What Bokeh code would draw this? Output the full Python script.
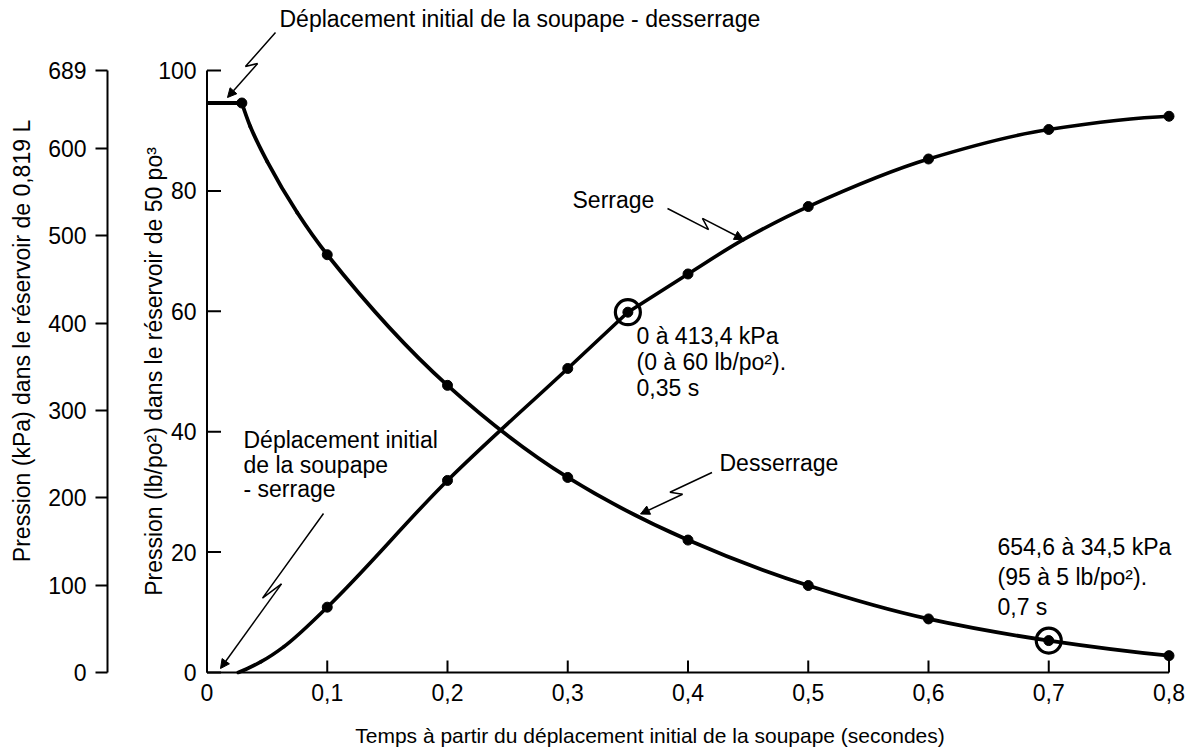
import math
from bokeh.plotting import figure
from bokeh.models import Range1d, LinearAxis, FixedTicker, Arrow, NormalHead
from bokeh.core.properties import value
from bokeh.embed import file_html
from bokeh.resources import INLINE

# ---------------- data ----------------
serrage_t = [0.1, 0.2, 0.3, 0.35, 0.4, 0.5, 0.6, 0.7, 0.8]
serrage_p = [10.85, 31.9, 50.5, 59.85, 66.2, 77.4, 85.3, 90.2, 92.4]
desserrage_t = [0.029, 0.1, 0.2, 0.3, 0.4, 0.5, 0.6, 0.7, 0.8]
desserrage_p = [94.6, 69.4, 47.7, 32.4, 22.0, 14.45, 8.9, 5.3, 2.8]

# traced positions of the drawn curves (read between the dots)
serrage_low_t = [0.026, 0.045, 0.064, 0.1, 0.2, 0.3, 0.35]
serrage_low_p = [0.0, 1.8, 4.3, 10.85, 31.9, 50.5, 59.85]
serrage_high_t = [0.35, 0.4, 0.446, 0.5, 0.6, 0.7, 0.8]
serrage_high_p = [59.85, 66.2, 71.9, 77.4, 85.3, 90.2, 92.4]
desserrage_flat_t = [0.0, 0.029]
desserrage_flat_p = [94.6, 94.6]
desserrage_trace_t = [0.029, 0.036, 0.05, 0.075, 0.1, 0.2, 0.3, 0.4, 0.5, 0.6, 0.7, 0.8]
desserrage_trace_p = [94.6, 90.7, 84.9, 76.4, 69.4, 47.7, 32.4, 22.0, 14.45, 8.9, 5.3, 2.8]

key_t = [0.35, 0.7]
key_p = [59.85, 5.3]

x_ticks = [0, 0.1, 0.2, 0.3, 0.4, 0.5, 0.6, 0.7, 0.8]
x_tick_labels = ["0", "0,1", "0,2", "0,3", "0,4", "0,5", "0,6", "0,7", "0,8"]
psi_ticks = [0, 20, 40, 60, 80, 100]
psi_tick_labels = ["0", "20", "40", "60", "80", "100"]
kpa_ticks = [0, 100, 200, 300, 400, 500, 600, 689]
KPA_PER_PSI = 6.89

x_title = "Temps à partir du déplacement initial de la soupape (secondes)"
kpa_title = "Pression (kPa) dans le réservoir de 0,819 L"
psi_title = "Pression (lb/po²) dans le réservoir de 50 po³"

# ---------------- layout (canvas pixels) ----------------
W, H = 1192, 753
FRAME_LEFT, FRAME_TOP, FRAME_RIGHT, FRAME_BOTTOM = 107, 0, 1192, 681
X0, SX = 206.5, 1202.5   # x pixel of t=0, px per second
Y0, SY = 672.0, 6.02     # y pixel of p=0, px per psi
FW = FRAME_RIGHT - FRAME_LEFT
FH = FRAME_BOTTOM - FRAME_TOP


def dx(xp):
    return (xp - X0) / SX


def dy(yp):
    return (Y0 - yp) / SY


FONT = value("Liberation Sans")
FS = value("23px")

p = figure(frame_width=FW, frame_height=FH,
           x_range=Range1d(dx(FRAME_LEFT), dx(FRAME_RIGHT)),
           y_range=Range1d(dy(FRAME_BOTTOM), dy(FRAME_TOP)),
           y_axis_location=None, toolbar_location=None,
           output_backend="svg", min_border=0, min_border_left=FRAME_LEFT,
           min_border_bottom=H - FRAME_BOTTOM)
p.outline_line_color = None
p.grid.visible = False
p.background_fill_color = "white"
p.border_fill_color = "white"

# x axis: labels and title from Bokeh's axis; its line and ticks are drawn at p = 0 below
xa = p.xaxis[0]
xa.ticker = FixedTicker(ticks=x_ticks)
xa.major_label_overrides = dict(zip(x_ticks, x_tick_labels))
xa.bounds = (0, 0.8)
xa.minor_tick_line_color = None
xa.major_tick_line_color = None
xa.axis_line_color = None
xa.major_tick_in = 0
xa.major_tick_out = 0
xa.major_label_text_font = "Liberation Sans"
xa.major_label_text_font_size = "23px"
xa.major_label_text_color = "black"
xa.major_label_standoff = 2
xa.axis_label = x_title
xa.axis_label_text_font = "Liberation Sans"
xa.axis_label_text_font_size = "21px"
xa.axis_label_text_font_style = "normal"
xa.axis_label_text_color = "black"
xa.axis_label_standoff = 20

p.segment(x0=[x_ticks[0]], y0=[0], x1=[x_ticks[-1]], y1=[0], line_width=2, line_color="black")
p.segment(x0=x_ticks, y0=[0] * len(x_ticks), x1=x_ticks, y1=[12 / SY] * len(x_ticks),
          line_width=2, line_color="black")

# kPa axis (outer left)
p.extra_y_ranges = {"kpa": Range1d(dy(FRAME_BOTTOM) * KPA_PER_PSI, dy(FRAME_TOP) * KPA_PER_PSI)}
ka = LinearAxis(y_range_name="kpa", ticker=FixedTicker(ticks=kpa_ticks), bounds=(0, 689))
ka.minor_tick_line_color = None
ka.major_tick_in = 0
ka.major_tick_out = 12
ka.axis_line_width = 2
ka.major_tick_line_width = 2
ka.major_label_text_font = "Liberation Sans"
ka.major_label_text_font_size = "23px"
ka.major_label_text_color = "black"
ka.major_label_standoff = 9
ka.axis_label = kpa_title
ka.axis_label_text_font = "Liberation Sans"
ka.axis_label_text_font_size = "23px"
ka.axis_label_text_font_style = "normal"
ka.axis_label_text_color = "black"
ka.axis_label_standoff = 10
p.add_layout(ka, "left")

# psi axis at t = 0
p.segment(x0=[0], y0=[psi_ticks[0]], x1=[0], y1=[psi_ticks[-1]], line_width=2, line_color="black")
p.segment(x0=[0] * len(psi_ticks), y0=psi_ticks, x1=[14 / SX] * len(psi_ticks), y1=psi_ticks,
          line_width=2, line_color="black")
p.text(x=[-10.5 / SX] * len(psi_ticks), y=psi_ticks, text=psi_tick_labels,
       text_font=FONT, text_font_size=FS, text_align="right", text_baseline="middle",
       text_color="black")
p.text(x=[dx(153.5)], y=[50], text=[psi_title], angle=math.pi / 2,
       text_font=FONT, text_font_size=FS, text_align="center", text_baseline="middle",
       text_color="black")


def smooth(xs, ys):
    """Shape-preserving (PCHIP) curve through the read points, drawn as cubic Bezier pieces."""
    n = len(xs)
    h = [xs[i + 1] - xs[i] for i in range(n - 1)]
    d = [(ys[i + 1] - ys[i]) / h[i] for i in range(n - 1)]
    m = [0.0] * n
    for k in range(1, n - 1):
        if d[k - 1] * d[k] <= 0:
            m[k] = 0.0
        else:
            w1 = 2 * h[k] + h[k - 1]
            w2 = h[k] + 2 * h[k - 1]
            m[k] = (w1 + w2) / (w1 / d[k - 1] + w2 / d[k])

    def end(h0, h1, d0, d1):
        mm = ((2 * h0 + h1) * d0 - h0 * d1) / (h0 + h1)
        if mm * d0 <= 0:
            return 0.0
        if d0 * d1 <= 0 and abs(mm) > 3 * abs(d0):
            return 3 * d0
        return mm

    if n > 2:
        m[0] = end(h[0], h[1], d[0], d[1])
        m[-1] = end(h[-1], h[-2], d[-1], d[-2])
    else:
        m[0] = m[-1] = d[0]
    out = dict(x0=[], y0=[], x1=[], y1=[], cx0=[], cy0=[], cx1=[], cy1=[])
    for i in range(n - 1):
        out["x0"].append(xs[i]); out["y0"].append(ys[i])
        out["x1"].append(xs[i + 1]); out["y1"].append(ys[i + 1])
        out["cx0"].append(xs[i] + h[i] / 3); out["cy0"].append(ys[i] + m[i] * h[i] / 3)
        out["cx1"].append(xs[i + 1] - h[i] / 3); out["cy1"].append(ys[i + 1] - m[i + 1] * h[i] / 3)
    return out


# curves
p.line(desserrage_flat_t, desserrage_flat_p, line_width=3.8, line_color="black")
p.bezier(**smooth(desserrage_trace_t, desserrage_trace_p), line_width=3.8, line_color="black",
         line_cap="round")
p.bezier(**smooth(serrage_low_t, serrage_low_p), line_width=3.6, line_color="black", line_cap="round")
p.bezier(**smooth(serrage_high_t, serrage_high_p), line_width=3.6, line_color="black", line_cap="round")
p.scatter(serrage_t, serrage_p, size=10, color="black")
p.scatter(desserrage_t, desserrage_p, size=10, color="black")
p.scatter(key_t, key_p, size=25, fill_color=None, line_color="black", line_width=3.2)

# annotation texts (pixel centres -> data)
notes = [
    ("Déplacement initial de la soupape - desserrage", 279, 18),
    ("Serrage", 572, 199),
    ("Desserrage", 719, 462),
    ("0 à 413,4 kPa", 636, 335.5),
    ("(0 à 60 lb/po²).", 636, 361.5),
    ("0,35 s", 636, 387),
    ("654,6 à 34,5 kPa", 997, 546),
    ("(95 à 5 lb/po²).", 997, 576),
    ("0,7 s", 997, 606),
    ("Déplacement initial", 243, 439.5),
    ("de la soupape", 243, 464),
    ("- serrage", 243, 488.5),
]
p.text(x=[dx(n[1]) for n in notes], y=[dy(n[2]) for n in notes], text=[n[0] for n in notes],
       text_font=FONT, text_font_size=FS, text_align="left", text_baseline="middle",
       text_color="black")


def zig(S, E, ta=0.56, tb=0.44, w=4.0):
    ddx, ddy = E[0] - S[0], E[1] - S[1]
    L = math.hypot(ddx, ddy)
    nx, ny = -ddy / L, ddx / L
    A = (S[0] + ta * ddx + w * nx, S[1] + ta * ddy + w * ny)
    B = (S[0] + tb * ddx - w * nx, S[1] + tb * ddy - w * ny)
    return S, A, B, E


leaders = [
    ((275, 32), (227, 97)),
    ((667, 208), (743, 239)),
    ((711.5, 472), (640, 513.5)),
    ((323, 513), (220, 668)),
]
for S, E in leaders:
    pts = zig(S, E)
    p.line([dx(q[0]) for q in pts[:3]], [dy(q[1]) for q in pts[:3]], line_width=1.5, line_color="black")
    p.add_layout(Arrow(end=NormalHead(size=9, fill_color="black", line_color="black", line_width=1),
                       x_start=dx(pts[2][0]), y_start=dy(pts[2][1]),
                       x_end=dx(pts[3][0]), y_end=dy(pts[3][1]),
                       line_width=1.5, line_color="black"))

open("out.html", "w").write(file_html(p, INLINE))
